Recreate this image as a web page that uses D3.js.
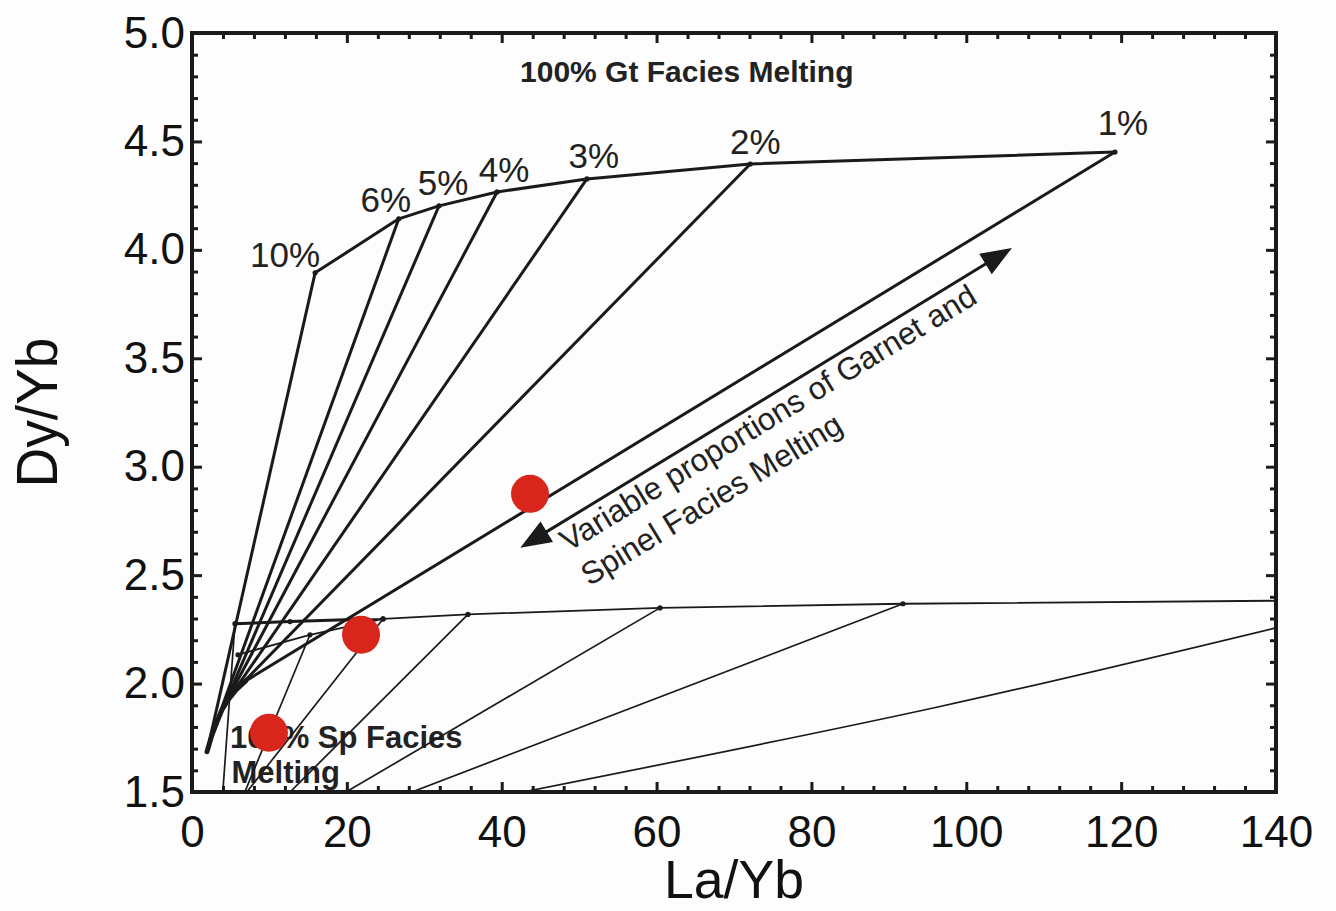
<!DOCTYPE html>
<html>
<head>
<meta charset="utf-8">
<script src="https://cdn.jsdelivr.net/npm/d3@7"></script>
<style>
  html, body { margin: 0; padding: 0; background: #fdfdfd; }
  svg { display: block; font-family: "Liberation Sans", Arial, Helvetica, sans-serif; }
</style>
</head>
<body>
<svg id="chart" width="1336" height="911"></svg>
<script>
// ---- Garnet-facies melting curve and its mixing lines toward spinel-facies melts ----
const meltLabels = ["10%", "6%", "5%", "4%", "3%", "2%", "1%"];
const gtLaYb = [15.9, 26.7, 31.9, 39.4, 51.0, 72.1, 119.2];
const gtDyYb = [3.894, 4.143, 4.203, 4.267, 4.327, 4.396, 4.451];
const spLaYb = [1.94, 2.58, 3.23, 3.87, 4.65, 5.68, 6.97];
const spDyYb = [1.686, 1.764, 1.824, 1.879, 1.925, 1.971, 2.013];

// ---- Mixed-source curves (thick segment, thin continuation, lower branch) ----
const mixThickLaYb = [5.55, 12.66, 20.92];
const mixThickDyYb = [2.276, 2.286, 2.295];
const mixThinLaYb = [20.92, 24.67, 35.64, 60.44, 91.82, 140];
const mixThinDyYb = [2.295, 2.298, 2.319, 2.349, 2.368, 2.382];
const lowerLaYb = [5.94, 15.24, 24.67];
const lowerDyYb = [2.133, 2.225, 2.298];

// ---- Thin tie lines running down to the lower axis ----
const tieStartLaYb = [5.55, 15.24, 24.67, 35.64, 60.44, 91.82];
const tieStartDyYb = [2.276, 2.225, 2.298, 2.319, 2.349, 2.368];
const tieEndLaYb = [3.98, 6.82, 7.08, 12.66, 19.89, 28.41];
const tieEndDyYb = [1.5, 1.5, 1.5, 1.5, 1.5, 1.5];
const edgeLaYb = [140, 96.47, 42.75];
const edgeDyYb = [2.257, 1.893, 1.5];

// ---- Samples ----
const sampleLaYb = [43.65, 21.83, 9.94];
const sampleDyYb = [2.875, 2.225, 1.773];

// ---- Double arrow (La/Yb, Dy/Yb at both ends) ----
const arrowLaYb = [42.4, 105.9];
const arrowDyYb = [2.626, 4.009];

// ---- Axes ----
const xTicks = [0, 20, 40, 60, 80, 100, 120, 140];
const yTicks = [1.5, 2.0, 2.5, 3.0, 3.5, 4.0, 4.5, 5.0];

const INK = "#1a1a1a";
const TEXT = "#222222";
const RED = "#d8261c";

const svg = d3.select("#chart");
const plotL = 192, plotR = 1276, plotT = 33, plotB = 792;
const x = d3.scaleLinear().domain([0, 140]).range([plotL, plotR]);
const y = d3.scaleLinear().domain([1.5, 5]).range([plotB, plotT]);

svg.append("rect").attr("width", 1336).attr("height", 911).attr("fill", "#fdfdfd");

svg.append("defs").append("clipPath").attr("id", "plot-clip")
  .append("rect").attr("x", plotL).attr("y", plotT)
  .attr("width", plotR - plotL).attr("height", plotB - plotT);

const plot = svg.append("g").attr("clip-path", "url(#plot-clip)");

// Region labels
plot.append("text")
  .attr("x", x(63.9)).attr("y", y(4.774))
  .attr("text-anchor", "middle")
  .attr("font-size", 30).attr("font-weight", "bold").attr("fill", TEXT)
  .text("100% Gt Facies Melting");

const spLabel = plot.append("text")
  .attr("x", x(4.9)).attr("y", y(1.704))
  .attr("font-size", 31).attr("font-weight", "bold").attr("fill", TEXT);
spLabel.append("tspan").attr("x", x(4.9)).text("100% Sp Facies");
spLabel.append("tspan").attr("x", x(5.1)).attr("dy", 35).text("Melting");

const line = d3.line().x(d => x(d[0])).y(d => y(d[1]));
const smooth = d3.line().x(d => x(d[0])).y(d => y(d[1])).curve(d3.curveCatmullRom.alpha(0.5));
const zipPts = (xs, ys) => xs.map((v, i) => [v, ys[i]]);

// Thin tie lines
tieStartLaYb.forEach((v, i) => {
  plot.append("path")
    .attr("d", line([[v, tieStartDyYb[i]], [tieEndLaYb[i], tieEndDyYb[i]]]))
    .attr("fill", "none").attr("stroke", INK).attr("stroke-width", 1.7);
});
plot.append("path")
  .attr("d", smooth(zipPts(edgeLaYb, edgeDyYb)))
  .attr("fill", "none").attr("stroke", INK).attr("stroke-width", 1.7);

// Mixed-source curves
plot.append("path")
  .attr("d", line(zipPts(mixThinLaYb, mixThinDyYb)))
  .attr("fill", "none").attr("stroke", INK).attr("stroke-width", 1.8);
plot.append("path")
  .attr("d", line(zipPts(lowerLaYb, lowerDyYb)))
  .attr("fill", "none").attr("stroke", INK).attr("stroke-width", 1.8);
plot.append("path")
  .attr("d", line(zipPts(mixThickLaYb, mixThickDyYb)))
  .attr("fill", "none").attr("stroke", INK).attr("stroke-width", 3);

// Mixing lines from each garnet melt to the spinel melt of the same degree
gtLaYb.forEach((v, i) => {
  plot.append("path")
    .attr("d", line([[v, gtDyYb[i]], [spLaYb[i], spDyYb[i]]]))
    .attr("fill", "none").attr("stroke", INK).attr("stroke-width", 3);
});

// Spinel-facies melting curve
plot.append("path")
  .attr("d", line(zipPts(spLaYb, spDyYb)))
  .attr("fill", "none").attr("stroke", INK).attr("stroke-width", 5)
  .attr("stroke-linecap", "round");

// Garnet-facies melting curve
plot.append("path")
  .attr("d", line(zipPts(gtLaYb, gtDyYb)))
  .attr("fill", "none").attr("stroke", INK).attr("stroke-width", 3)
  .attr("stroke-linejoin", "round");

// Small nodes
const nodes = zipPts(gtLaYb, gtDyYb)
  .concat(zipPts(mixThickLaYb, mixThickDyYb))
  .concat(zipPts(mixThinLaYb.slice(1, 5), mixThinDyYb.slice(1, 5)))
  .concat(zipPts(lowerLaYb, lowerDyYb));
plot.selectAll("circle.node").data(nodes).join("circle")
  .attr("class", "node")
  .attr("cx", d => x(d[0])).attr("cy", d => y(d[1])).attr("r", 2.6)
  .attr("fill", INK);

// Melt-fraction labels
const labelOffsets = [[-30, -6], [-13, -7], [4, -11], [7, -10], [7, -11], [5, -10], [8, -17]];
plot.selectAll("text.melt").data(meltLabels).join("text")
  .attr("class", "melt")
  .attr("x", (d, i) => x(gtLaYb[i]) + labelOffsets[i][0])
  .attr("y", (d, i) => y(gtDyYb[i]) + labelOffsets[i][1])
  .attr("text-anchor", "middle")
  .attr("font-size", 35).attr("fill", TEXT)
  .text(d => d);

// Samples
plot.selectAll("circle.sample").data(zipPts(sampleLaYb, sampleDyYb)).join("circle")
  .attr("class", "sample")
  .attr("cx", d => x(d[0])).attr("cy", d => y(d[1])).attr("r", 19)
  .attr("fill", RED);

// Double-headed arrow
const ax0 = x(arrowLaYb[0]), ay0 = y(arrowDyYb[0]);
const ax1 = x(arrowLaYb[1]), ay1 = y(arrowDyYb[1]);
const ang = Math.atan2(ay1 - ay0, ax1 - ax0);
const ux = Math.cos(ang), uy = Math.sin(ang);
const headLen = 31, headHalf = 12;
plot.append("line")
  .attr("x1", ax0 + ux * headLen * 0.8).attr("y1", ay0 + uy * headLen * 0.8)
  .attr("x2", ax1 - ux * headLen * 0.8).attr("y2", ay1 - uy * headLen * 0.8)
  .attr("stroke", INK).attr("stroke-width", 3);
function head(tx, ty, dx, dy) {
  const bx = tx - dx * headLen, by = ty - dy * headLen;
  const px = -dy * headHalf, py = dx * headHalf;
  plot.append("path")
    .attr("d", `M${tx},${ty}L${bx + px},${by + py}L${bx - px},${by - py}Z`)
    .attr("fill", INK);
}
head(ax1, ay1, ux, uy);
head(ax0, ay0, -ux, -uy);

// Rotated annotation along the arrow
const noteAngle = ang * 180 / Math.PI;
const note = plot.append("text")
  .attr("transform", `translate(${x(48.6)},${y(2.605)}) rotate(${noteAngle})`)
  .attr("font-size", 31.5).attr("fill", TEXT);
note.append("tspan").attr("x", 0).attr("y", 0).text("Variable proportions of Garnet and");
note.append("tspan").attr("x", 0).attr("y", 40).text("Spinel Facies Melting");

// ---- Axes with inward ticks ----
const xMinor = d3.range(0, 140.01, 4).filter(v => v % 20 !== 0);
const yMinor = d3.range(15, 50.01, 1).map(v => v / 10).filter(v => Math.round(v * 10) % 5 !== 0);

function styleAxis(g) {
  g.select(".domain").remove();
  g.selectAll(".tick line").attr("stroke", INK).attr("stroke-width", 3);
  g.selectAll(".tick text").attr("fill", "#111").attr("font-family", "Liberation Sans, Arial, sans-serif");
}

const gxb = svg.append("g").attr("transform", `translate(0,${plotB})`)
  .call(d3.axisBottom(x).tickValues(xTicks).tickSize(-10).tickPadding(24).tickFormat(d3.format("d")));
styleAxis(gxb);
gxb.selectAll(".tick text").attr("font-size", 44);
svg.append("g").attr("transform", `translate(0,${plotB})`)
  .call(d3.axisBottom(x).tickValues(xMinor).tickSize(-6).tickFormat(""))
  .call(styleAxis);
svg.append("g").attr("transform", `translate(0,${plotT})`)
  .call(d3.axisTop(x).tickValues(xTicks).tickSize(-10).tickFormat(""))
  .call(styleAxis);
svg.append("g").attr("transform", `translate(0,${plotT})`)
  .call(d3.axisTop(x).tickValues(xMinor).tickSize(-6).tickFormat(""))
  .call(styleAxis);

const gyl = svg.append("g").attr("transform", `translate(${plotL},0)`)
  .call(d3.axisLeft(y).tickValues(yTicks).tickSize(-10).tickPadding(7).tickFormat(d3.format(".1f")));
styleAxis(gyl);
gyl.selectAll(".tick text").attr("font-size", 44);
svg.append("g").attr("transform", `translate(${plotL},0)`)
  .call(d3.axisLeft(y).tickValues(yMinor).tickSize(-6).tickFormat(""))
  .call(styleAxis);
svg.append("g").attr("transform", `translate(${plotR},0)`)
  .call(d3.axisRight(y).tickValues(yTicks).tickSize(-10).tickFormat(""))
  .call(styleAxis);
svg.append("g").attr("transform", `translate(${plotR},0)`)
  .call(d3.axisRight(y).tickValues(yMinor).tickSize(-6).tickFormat(""))
  .call(styleAxis);

// Frame
svg.append("rect")
  .attr("x", plotL).attr("y", plotT).attr("width", plotR - plotL).attr("height", plotB - plotT)
  .attr("fill", "none").attr("stroke", INK).attr("stroke-width", 4);

// Axis titles
svg.append("text")
  .attr("x", (plotL + plotR) / 2).attr("y", 898)
  .attr("text-anchor", "middle").attr("font-size", 54).attr("fill", "#111")
  .attr("textLength", 140).attr("lengthAdjust", "spacingAndGlyphs")
  .text("La/Yb");
svg.append("text")
  .attr("transform", `translate(57,${(plotT + plotB) / 2}) rotate(-90)`)
  .attr("text-anchor", "middle").attr("font-size", 58).attr("fill", "#111")
  .attr("textLength", 150).attr("lengthAdjust", "spacingAndGlyphs")
  .text("Dy/Yb");
</script>
</body>
</html>
